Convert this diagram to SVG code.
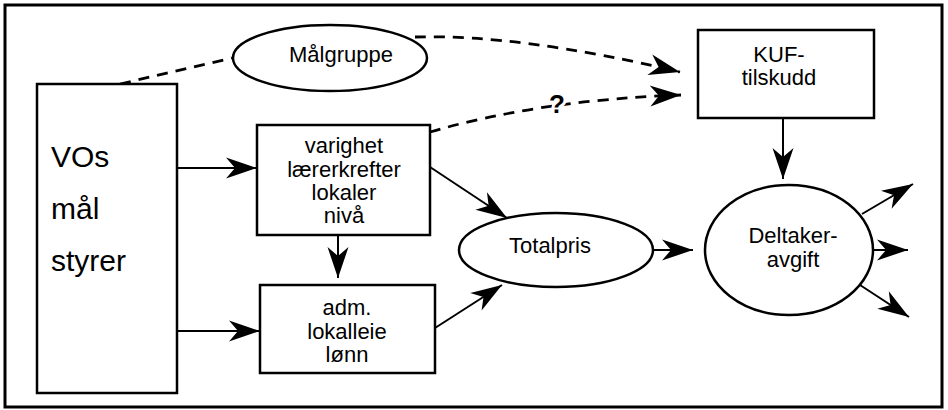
<svg xmlns="http://www.w3.org/2000/svg" width="948" height="410" viewBox="0 0 948 410">
<style>
.box{fill:#fff;stroke:#000;stroke-width:2.5}
.ell{fill:#fff;stroke:#000;stroke-width:2.5}
.t{font-family:"Liberation Sans",Arial,sans-serif;font-size:22px;fill:#000;text-anchor:middle}
.big{font-family:"Liberation Sans",Arial,sans-serif;font-size:30px;fill:#000}
.ln{fill:none;stroke:#000;stroke-width:2}
.dash{fill:none;stroke:#000;stroke-width:2.8;stroke-dasharray:11 8}
</style>
<defs>
<marker id="ah" markerUnits="userSpaceOnUse" viewBox="-32 -12 34 24" markerWidth="34" markerHeight="24" refX="0" refY="0" orient="auto">
<path d="M0,0 L-31,-10.5 L-22,0 L-31,10.5 Z" fill="#000"/>
</marker>
</defs>
<rect x="5" y="5" width="937" height="402" fill="#fff" stroke="#000" stroke-width="3"/>
<g id="connectors">
<path class="dash" d="M120,84 L232,58"/>
<path class="dash" d="M415,37 Q520,34 680,72" marker-end="url(#ah)"/>
<path class="dash" d="M430,132 Q540,100 681,95" marker-end="url(#ah)"/>
<path class="ln" d="M177,168 L257,168" marker-end="url(#ah)"/>
<path class="ln" d="M177,331 L260,331" marker-end="url(#ah)"/>
<path class="ln" d="M338,235 L338,278" marker-end="url(#ah)"/>
<path class="ln" d="M430,167 L507,218" marker-end="url(#ah)"/>
<path class="ln" d="M435,328 L502,285" marker-end="url(#ah)"/>
<path class="ln" d="M653,250 L693,250" marker-end="url(#ah)"/>
<path class="ln" d="M783,118 L783,179" marker-end="url(#ah)"/>
<path class="ln" d="M862,214 L913,184" marker-end="url(#ah)"/>
<path class="ln" d="M872,250 L908,250" marker-end="url(#ah)"/>
<path class="ln" d="M860,285 L909,317" marker-end="url(#ah)"/>
<text x="557" y="113" font-family="Liberation Sans,Arial,sans-serif" font-size="26" font-weight="bold" text-anchor="middle" stroke="#fff" stroke-width="6" paint-order="stroke">?</text>
</g>
<g id="vos">
<rect class="box" x="37" y="84" width="140" height="309"/>
<text class="big" x="51" y="167">VOs</text>
<text class="big" x="51" y="219">mål</text>
<text class="big" x="51" y="271">styrer</text>
</g>
<g id="malgruppe">
<ellipse class="ell" cx="330" cy="58" rx="97" ry="33"/>
<text class="t" x="341" y="62">Målgruppe</text>
</g>
<g id="varighet">
<rect class="box" x="257" y="125" width="173" height="110"/>
<text class="t" x="344" y="153">varighet</text>
<text class="t" x="344" y="177">lærerkrefter</text>
<text class="t" x="344" y="200">lokaler</text>
<text class="t" x="344" y="223">nivå</text>
</g>
<g id="adm">
<rect class="box" x="260" y="285" width="175" height="88"/>
<text class="t" x="347" y="315">adm.</text>
<text class="t" x="347" y="339">lokalleie</text>
<text class="t" x="347" y="362">lønn</text>
</g>
<g id="kuf">
<rect class="box" x="698" y="30" width="176" height="88"/>
<text class="t" x="779" y="62">KUF-</text>
<text class="t" x="779" y="85">tilskudd</text>
</g>
<g id="totalpris">
<ellipse class="ell" cx="556" cy="250" rx="97" ry="37"/>
<text class="t" x="550" y="253">Totalpris</text>
</g>
<g id="deltaker">
<ellipse class="ell" cx="789" cy="250" rx="84" ry="65"/>
<text class="t" x="793" y="243">Deltaker-</text>
<text class="t" x="793" y="267">avgift</text>
</g>
</svg>
